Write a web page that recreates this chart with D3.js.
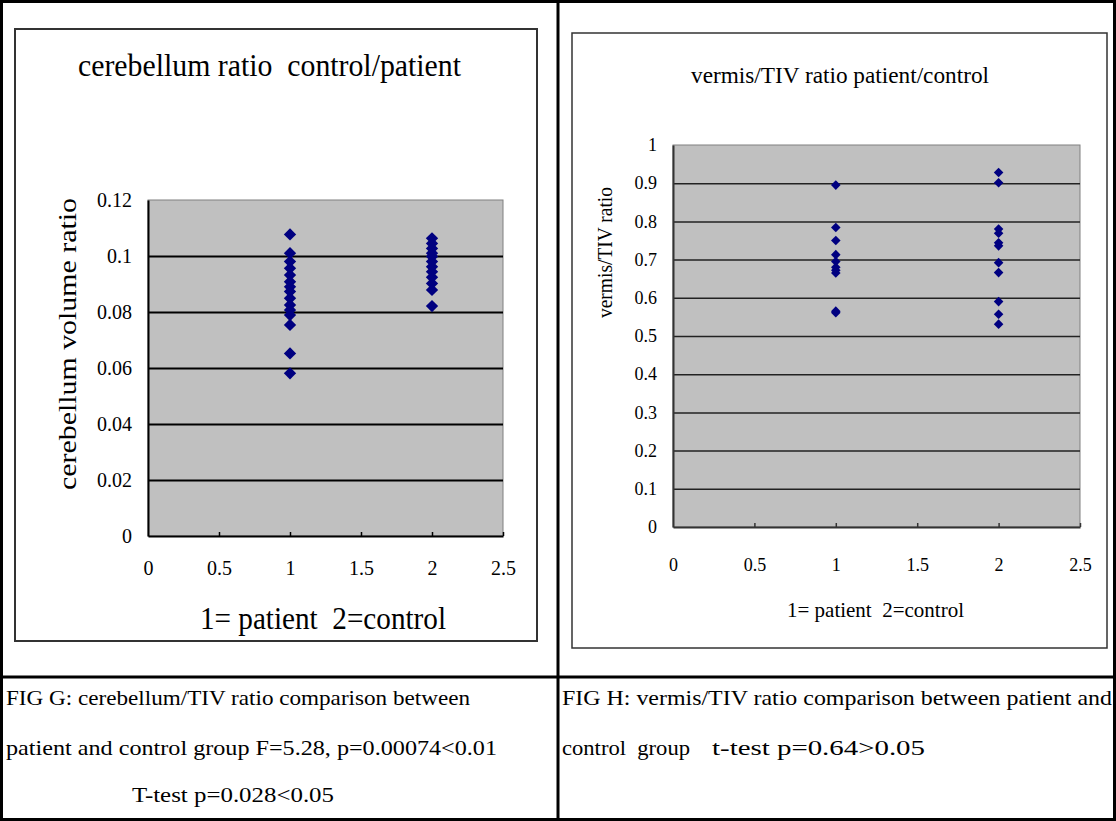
<!DOCTYPE html>
<html>
<head>
<meta charset="utf-8">
<script src="https://cdn.jsdelivr.net/npm/d3@7"></script>
<style>
  body { margin: 0; background: #fff; }
  text { font-family: "Liberation Serif", "Times New Roman", serif; fill: #000; white-space: pre; }
</style>
</head>
<body>
<svg id="chart"></svg>
<script>
(() => {

  // FIG G: cerebellum volume ratio, 1 = patient, 2 = control
  const cerebPatient = [0.1077, 0.101, 0.098, 0.0956, 0.0932, 0.0908, 0.089, 0.0873,
    0.0849, 0.0825, 0.0807, 0.0789, 0.0754, 0.0652, 0.0581];
  const cerebControl = [0.1063, 0.1045, 0.1027, 0.101, 0.0998, 0.098, 0.0962, 0.0944,
    0.0924, 0.0902, 0.0879, 0.0821];
  const cerebYTicks = [0, 0.02, 0.04, 0.06, 0.08, 0.1, 0.12];

  // FIG H: vermis/TIV ratio
  const vermisPatient = [0.895, 0.784, 0.75, 0.713, 0.695, 0.68, 0.672, 0.665, 0.565, 0.561];
  const vermisControl = [0.928, 0.901, 0.78, 0.769, 0.744, 0.736, 0.692, 0.666, 0.59, 0.557, 0.531];
  const vermisYTicks = [0, 0.1, 0.2, 0.3, 0.4, 0.5, 0.6, 0.7, 0.8, 0.9, 1];

  const xTicks = [0, 0.5, 1, 1.5, 2, 2.5];

  const captionG = [
    'FIG G: cerebellum/TIV ratio comparison between',
    'patient and control group F=5.28, p=0.00074<0.01',
    'T-test p=0.028<0.05'
  ];
  const captionH = [
    'FIG H: vermis/TIV ratio comparison between patient and',
    'control  group',
    't-test p=0.64>0.05'
  ];

  const svgWidth = 1116;
  const svgHeight = 821;

  const svg = d3.select('#chart')
    .attr('width', svgWidth)
    .attr('height', svgHeight);

  function drawPanel(cfg) {
    // chart frame
    svg.append('rect')
      .attr('x', cfg.frame[0]).attr('y', cfg.frame[1])
      .attr('width', cfg.frame[2]).attr('height', cfg.frame[3])
      .attr('fill', '#fff')
      .attr('stroke', '#333')
      .attr('stroke-width', cfg.frameWidth);

    const p = cfg.plot;
    const x = d3.scaleLinear().domain([0, 2.5]).range([p.left, p.right]);
    const y = d3.scaleLinear().domain(cfg.yDomain).range([p.bottom, p.top]);

    svg.append('rect')
      .attr('x', p.left).attr('y', p.top)
      .attr('width', p.right - p.left).attr('height', p.bottom - p.top)
      .attr('fill', '#c0c0c0')
      .attr('stroke', '#808080')
      .attr('stroke-width', 1);

    // gridlines
    svg.append('g')
      .attr('transform', `translate(${p.left},0)`)
      .call(d3.axisLeft(y)
        .tickValues(cfg.yTicks.slice(1, -1))
        .tickSize(-(p.right - p.left))
        .tickFormat(''))
      .call(g => g.select('.domain').remove())
      .call(g => g.selectAll('line')
        .attr('stroke', cfg.gridColor)
        .attr('stroke-width', cfg.gridWidth));

    // y labels
    svg.append('g')
      .attr('transform', `translate(${p.left},0)`)
      .call(d3.axisLeft(y)
        .tickValues(cfg.yTicks)
        .tickSize(0)
        .tickPadding(16)
        .tickFormat(d => String(d)))
      .call(g => g.select('.domain').attr('stroke', cfg.axisColor).attr('stroke-width', 2))
      .call(g => g.selectAll('text').attr('font-size', cfg.tickFont));

    // x axis with inner ticks
    svg.append('g')
      .attr('transform', `translate(0,${p.bottom})`)
      .call(d3.axisBottom(x)
        .tickValues(xTicks.slice(1))
        .tickSize(-4)
        .tickSizeOuter(0)
        .tickFormat(''))
      .call(g => g.select('.domain').attr('stroke', cfg.axisColor).attr('stroke-width', 2))
      .call(g => g.selectAll('line').attr('stroke', cfg.axisColor).attr('stroke-width', 1.5));

    svg.append('g')
      .attr('transform', `translate(0,${p.bottom})`)
      .call(d3.axisBottom(x)
        .tickValues(xTicks)
        .tickSize(0)
        .tickPadding(cfg.xPad)
        .tickFormat(d => String(d)))
      .call(g => g.select('.domain').remove())
      .call(g => g.selectAll('text').attr('font-size', cfg.tickFont));

    // markers
    const diamond = d3.symbol().type(d3.symbolSquare).size(cfg.markerSize);
    const points = cfg.patient.map(v => ({ group: 1, value: v }))
      .concat(cfg.control.map(v => ({ group: 2, value: v })));
    svg.append('g')
      .selectAll('path')
      .data(points)
      .enter()
      .append('path')
      .attr('d', diamond)
      .attr('fill', '#000080')
      .attr('transform', d => `translate(${x(d.group)},${y(d.value)}) rotate(45)`);

    // title and axis titles
    svg.append('text')
      .attr('x', cfg.title.x).attr('y', cfg.title.y)
      .attr('font-size', cfg.title.size)
      .attr('textLength', cfg.title.len)
      .attr('lengthAdjust', 'spacingAndGlyphs')
      .text(cfg.title.text);

    svg.append('text')
      .attr('x', cfg.xLabel.x).attr('y', cfg.xLabel.y)
      .attr('font-size', cfg.xLabel.size)
      .attr('textLength', cfg.xLabel.len)
      .attr('lengthAdjust', 'spacingAndGlyphs')
      .text(cfg.xLabel.text);

    svg.append('text')
      .attr('transform', `translate(${cfg.yLabel.x},${cfg.yLabel.y}) rotate(-90)`)
      .attr('font-size', cfg.yLabel.size)
      .attr('textLength', cfg.yLabel.len)
      .attr('lengthAdjust', 'spacingAndGlyphs')
      .text(cfg.yLabel.text);
  }

  drawPanel({
    frame: [15, 29, 522, 612],
    frameWidth: 2,
    plot: { left: 148, right: 503, top: 200, bottom: 536 },
    yDomain: [0, 0.12],
    yTicks: cerebYTicks,
    gridColor: '#000',
    gridWidth: 2,
    axisColor: '#000',
    tickFont: 20,
    xPad: 25,
    markerSize: 76,
    patient: cerebPatient,
    control: cerebControl,
    title: { text: 'cerebellum ratio  control/patient', x: 78, y: 76, size: 31, len: 383 },
    xLabel: { text: '1= patient  2=control', x: 200, y: 629, size: 31, len: 246 },
    yLabel: { text: 'cerebellum volume ratio', x: 76, y: 490, size: 25, len: 292 }
  });

  drawPanel({
    frame: [572, 33, 535, 615],
    frameWidth: 1.5,
    plot: { left: 673, right: 1080, top: 145, bottom: 527 },
    yDomain: [0, 1],
    yTicks: vermisYTicks,
    gridColor: '#222',
    gridWidth: 1.5,
    axisColor: '#333',
    tickFont: 18,
    xPad: 31,
    markerSize: 46,
    patient: vermisPatient,
    control: vermisControl,
    title: { text: 'vermis/TIV ratio patient/control', x: 691, y: 83, size: 24, len: 298 },
    xLabel: { text: '1= patient  2=control', x: 787, y: 617, size: 21, len: 177 },
    yLabel: { text: 'vermis/TIV ratio', x: 612, y: 318, size: 20, len: 131 }
  });

  // captions
  const capG = [
    { x: 6, y: 705, len: 464 },
    { x: 6, y: 755, len: 491 },
    { x: 132, y: 802, len: 202 }
  ];
  svg.append('g').selectAll('text')
    .data(captionG)
    .enter()
    .append('text')
    .attr('x', (d, i) => capG[i].x)
    .attr('y', (d, i) => capG[i].y)
    .attr('font-size', 21)
    .attr('textLength', (d, i) => capG[i].len)
    .attr('lengthAdjust', 'spacingAndGlyphs')
    .text(d => d);

  const capH = [
    { x: 562, y: 705, len: 550 },
    { x: 562, y: 755, len: 128 },
    { x: 712, y: 755, len: 213 }
  ];
  svg.append('g').selectAll('text')
    .data(captionH)
    .enter()
    .append('text')
    .attr('x', (d, i) => capH[i].x)
    .attr('y', (d, i) => capH[i].y)
    .attr('font-size', 21)
    .attr('textLength', (d, i) => capH[i].len)
    .attr('lengthAdjust', 'spacingAndGlyphs')
    .text(d => d);

  // table borders
  svg.append('rect')
    .attr('x', 1.5).attr('y', 1.5)
    .attr('width', svgWidth - 3).attr('height', svgHeight - 3)
    .attr('fill', 'none')
    .attr('stroke', '#000')
    .attr('stroke-width', 3);

  svg.append('line')
    .attr('x1', 558).attr('x2', 558)
    .attr('y1', 0).attr('y2', svgHeight)
    .attr('stroke', '#000').attr('stroke-width', 3);

  svg.append('line')
    .attr('x1', 0).attr('x2', svgWidth)
    .attr('y1', 677).attr('y2', 677)
    .attr('stroke', '#000').attr('stroke-width', 3);

})();
</script>
</body>
</html>
